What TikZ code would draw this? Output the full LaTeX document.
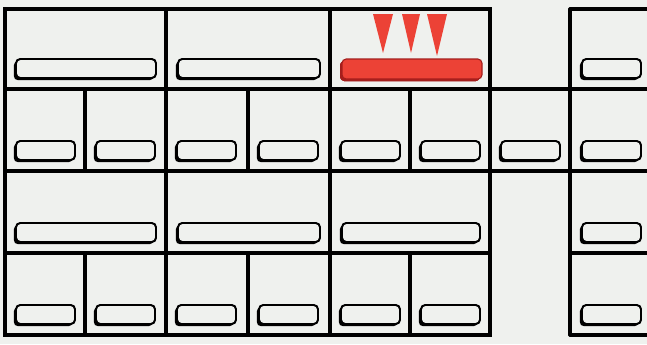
\documentclass[tikz,border=0pt]{standalone}
\usepackage{tikz}
\definecolor{paper}{RGB}{239,241,238}
\definecolor{alarmred}{RGB}{236,66,54}
\definecolor{darkred}{RGB}{165,30,28}

% drawer pull: left x, right x, bottom y (picture units are pixels, y down)
\newcommand{\pull}[3]{%
  \fill[black, rounded corners=3] (#1-2.2,#3-19+2.2) rectangle (#2-2.2,#3+2.2);
  \draw[pullline] (#1,#3-19) rectangle (#2,#3);
}

\begin{document}
\begin{tikzpicture}[x=0.025cm, y=-0.025cm,
  frame/.style={line width=2.2pt, line cap=round},
  pullline/.style={line width=1.4pt, rounded corners=3, fill=paper}]
% Page
\fill[paper] (0,0) rectangle (647,344);
\useasboundingbox (0,0) rectangle (647,344);
% Main cabinet
\draw[frame] (5,9) rectangle (490,335);
\foreach \y in {89,171,253}
  \draw[frame] (5,\y) -- (490,\y);
\draw[frame] (166,9) -- (166,335);
\draw[frame] (330,9) -- (330,335);
% Small drawers (rows 2 and 4)
\foreach \x in {85,248,410} {
  \draw[frame] (\x,89) -- (\x,171);
  \draw[frame] (\x,253) -- (\x,335);
}
% Extra drawer beside row 2
\draw[frame] (490,89) rectangle (570,171);
% Right column, cut by the page edge
\draw[frame] (570,9) -- (570,335);
\foreach \y in {9,89,171,253,335}
  \draw[frame] (570,\y) -- (648,\y);
% Pulls: wide drawers
\pull{16}{156}{78}
\pull{178}{320}{78}
\pull{16}{156}{242}
\pull{178}{320}{242}
\pull{342}{480}{242}
% Pulls: small drawers
\foreach \x in {5,85,166,248,330,410} {
  \pull{\x+11}{\x+70}{160}
  \pull{\x+11}{\x+70}{324}
}
\pull{501}{560}{160}
% Pulls: right column
\foreach \y in {78,160,242,324}
  \pull{582}{641}{\y}
% Alarm drawer
\fill[darkred, rounded corners=3] (340,61) rectangle (480,81);
\draw[line width=0.8pt, darkred, fill=alarmred, rounded corners=3] (342,59) rectangle (482,79);
\fill[alarmred] (373,14) -- (393,14) -- (383,53) -- cycle;
\fill[alarmred] (402,14) -- (420,14) -- (411,53) -- cycle;
\fill[alarmred] (427,14) -- (447,14) -- (437,56) -- cycle;
\end{tikzpicture}
\end{document}
